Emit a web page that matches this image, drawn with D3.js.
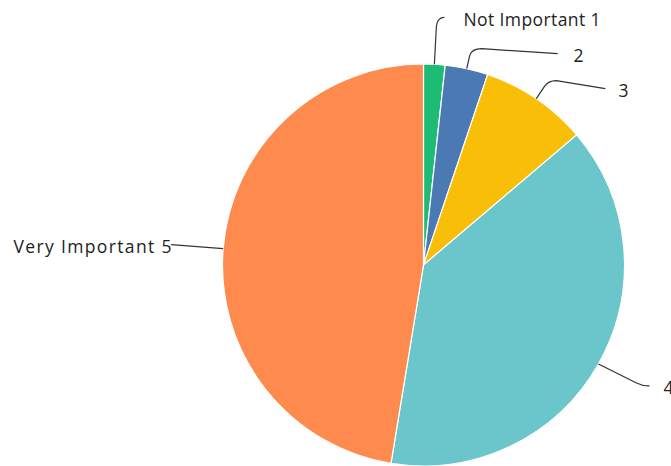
<!DOCTYPE html>
<html>
<head>
<meta charset="utf-8">
<script src="https://cdn.jsdelivr.net/npm/d3@7"></script>
<style>
  html, body { margin: 0; padding: 0; background: #fff; }
  svg { display: block; }
  .lbl { font-family: "Open Sans", "DejaVu Sans", sans-serif; font-size: 17.5px; fill: #222; }
  .leader { fill: none; stroke: #333; stroke-width: 1.2; }
</style>
</head>
<body>
<svg id="chart" width="671" height="466"></svg>
<script>
// Survey answers on a 1–5 importance scale
const categories = ["Not Important 1", "2", "3", "4", "Very Important 5"];
const counts = [2, 4, 10, 45, 55];
const colors = ["#1dbb73", "#4a79b4", "#f9be08", "#6bc6cb", "#fe8a4d"];

const width = 671, height = 466;
const cx = 423.5, cy = 265, radius = 201;

const svg = d3.select("#chart");
const g = svg.append("g").attr("transform", `translate(${cx},${cy})`);

const pie = d3.pie().sort(null).value(d => d.value);
const arcs = pie(categories.map((c, i) => ({ name: c, value: counts[i], color: colors[i] })));
const arc = d3.arc().innerRadius(0).outerRadius(radius);

g.selectAll("path.slice")
  .data(arcs)
  .join("path")
  .attr("class", "slice")
  .attr("d", arc)
  .attr("fill", d => d.data.color)
  .attr("stroke", "#fff")
  .attr("stroke-width", 1.2);

// Label placement, spread width and leader-line bends (relative to pie centre)
const labelLayout = [
  { tx: 40, ty: -239, w: 137, path: (x, y) => `M${x},${y} L${x + 2},${y - 38} Q${x + 3},${y - 47} ${x + 10},${y - 47}` },
  { tx: 150, ty: -203, w: 0, path: (x, y) => `M${x},${y} L${x + 3},${y - 13} Q${x + 5},${y - 20} ${x + 15},${y - 20} L${x + 91},${y - 15}` },
  { tx: 195, ty: -168, w: 0, path: (x, y) => `M${x},${y} L${x + 8},${y - 12} Q${x + 12},${y - 18} ${x + 20},${y - 18} L${x + 69},${y - 10}` },
  { tx: 240, ty: 129, w: 0, path: (x, y) => `M${x},${y} L${x + 38},${y + 19} Q${x + 44},${y + 22} ${x + 51},${y + 22}` },
  { tx: -410, ty: -12, w: 158, path: (x, y) => `M${x},${y} L${x - 52},${y - 4}` }
];

arcs.forEach((d, i) => {
  const a = (d.startAngle + d.endAngle) / 2;
  const x = radius * Math.sin(a);
  const y = -radius * Math.cos(a);
  const L = labelLayout[i];
  g.append("path").attr("class", "leader").attr("d", L.path(x, y));
  const t = g.append("text")
    .attr("class", "lbl")
    .attr("x", L.tx)
    .attr("y", L.ty)
    .text(d.data.name);
  if (L.w) t.attr("textLength", L.w).attr("lengthAdjust", "spacing");
});
</script>
</body>
</html>
